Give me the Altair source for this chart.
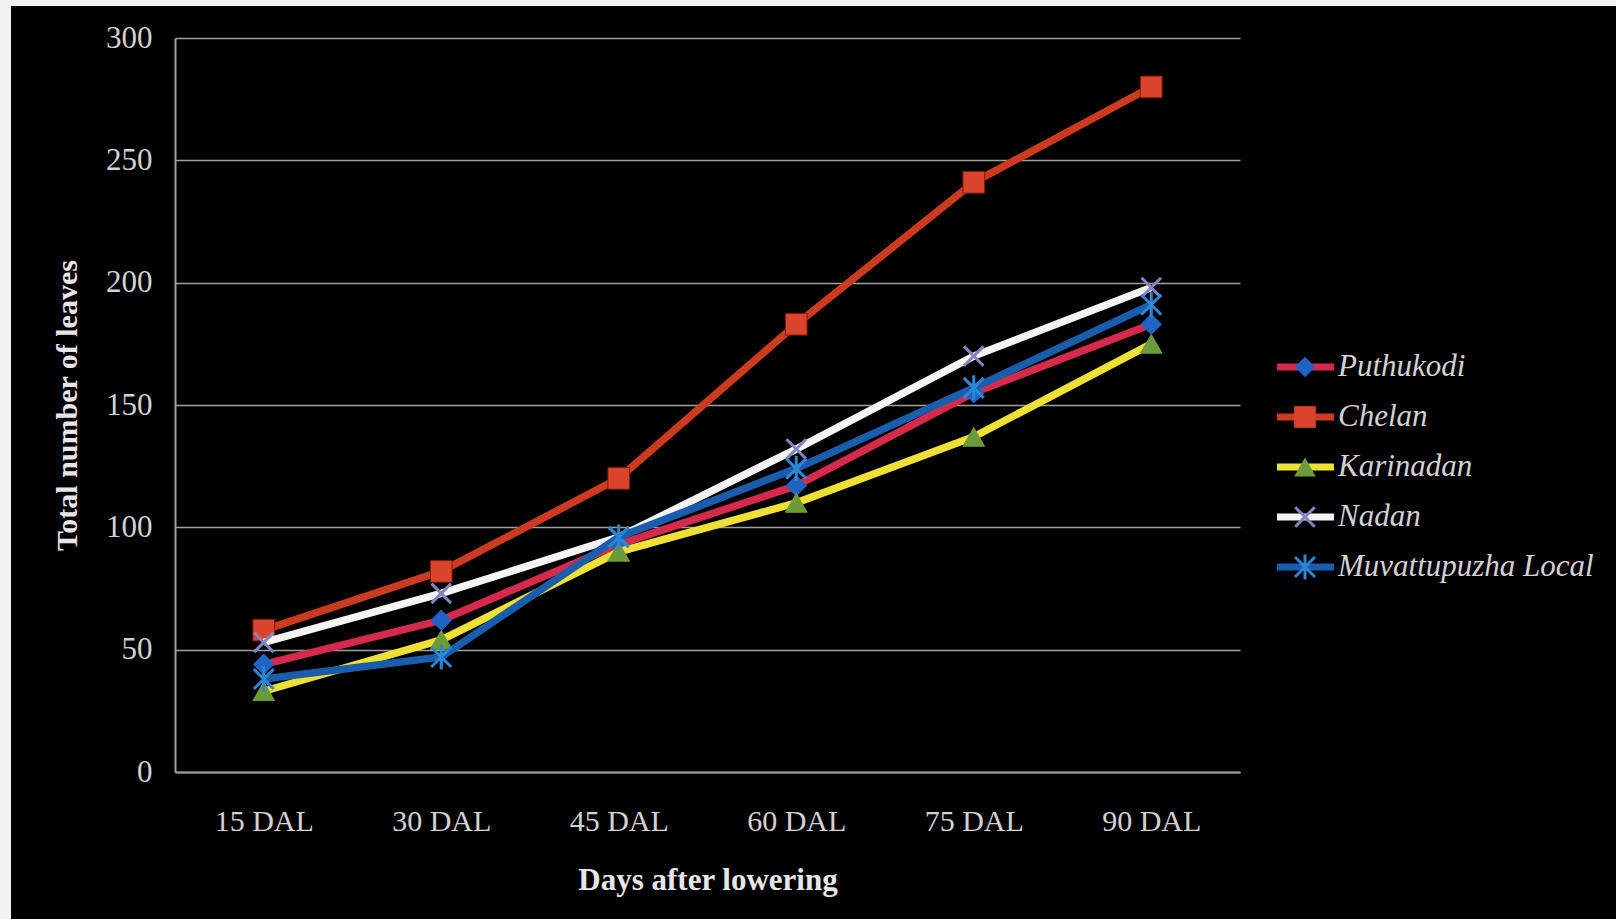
import altair as alt
import pandas as pd

# Days after lowering (x categories)
days = ["15 DAL", "30 DAL", "45 DAL", "60 DAL", "75 DAL", "90 DAL"]

# Varieties, in drawing / legend order
series_names = ["Puthukodi", "Chelan", "Karinadan", "Nadan", "Muvattupuzha Local"]

# Total number of leaves per variety
puthukodi = [44, 62, 93, 117, 155, 183]
chelan = [58, 82, 120, 183, 241, 280]
karinadan = [33, 54, 90, 110, 137, 175]
nadan = [53, 73, 96, 132, 170, 198]
muvattupuzha_local = [38, 47, 96, 124, 157, 191]

y_ticks = [0, 50, 100, 150, 200, 250, 300]

series_values = [puthukodi, chelan, karinadan, nadan, muvattupuzha_local]

rows = [
    {"day": d, "series": s, "leaves": v}
    for s, vals in zip(series_names, series_values)
    for d, v in zip(days, vals)
]
df = pd.DataFrame(rows)
legend_df = pd.DataFrame({"series": series_names})

# Styling per series
X_PATH = "M-1,-1L1,1M-1,1L1,-1"
STAR_PATH = "M-1,-1L1,1M-1,1L1,-1M0,-1.25L0,1.25"
line_colors = ["#d62a4c", "#cc3b1f", "#efe036", "#f4f4f4", "#1b5dad"]
marker_shapes = ["diamond", "square", "triangle-up", X_PATH, STAR_PATH]
marker_colors = ["#1f64c4", "#d9442b", "#6e9b3a", "#8484c4", "#2c86d6"]
marker_filled = [True, True, True, False, False]
marker_sizes = [420, 470, 470, 380, 400]

W, H = 1065, 734
PAD_L, PAD_T = 175, 38
SERIF = "Liberation Serif"
LABEL_COLOR = "#d2d2d2"
GRID_COLOR = "#a0a0a0"

x_enc = alt.X(
    "day:N",
    sort=days,
    scale=alt.Scale(type="point", padding=0.5),
    axis=alt.Axis(
        title="Days after lowering",
        titleFont=SERIF,
        titleFontSize=31,
        titleFontWeight="bold",
        titleColor="#e6e6e6",
        titleY=108,
        titleBaseline="middle",
        labelFont=SERIF,
        labelFontSize=30,
        labelColor=LABEL_COLOR,
        labelPadding=34,
        labelAngle=0,
        ticks=False,
        tickSize=0,
        grid=False,
        domainColor=GRID_COLOR,
        domainWidth=2,
    ),
)

y_enc = alt.Y(
    "leaves:Q",
    scale=alt.Scale(domain=[0, 300], nice=False, zero=True),
    axis=alt.Axis(
        values=y_ticks,
        title="Total number of leaves",
        titleFont=SERIF,
        titleFontSize=30,
        titleFontWeight="bold",
        titleColor="#e6e6e6",
        titleX=-108,
        titleBaseline="middle",
        labelFont=SERIF,
        labelFontSize=31,
        labelColor=LABEL_COLOR,
        labelPadding=23,
        ticks=False,
        tickSize=0,
        grid=True,
        gridColor=GRID_COLOR,
        gridWidth=1.5,
        domainColor=GRID_COLOR,
        domainWidth=2,
    ),
)

# Line + markers, one series at a time so later series sit on top
data_layers = []
for i, name in enumerate(series_names):
    base = alt.Chart().transform_filter(alt.datum.series == name)
    data_layers.append(
        base.mark_line(color=line_colors[i], strokeWidth=7.5).encode(x=x_enc, y=y_enc)
    )
    point_kwargs = dict(
        shape=marker_shapes[i],
        size=marker_sizes[i],
        filled=marker_filled[i],
        opacity=1,
    )
    if marker_filled[i]:
        point_kwargs.update(color=marker_colors[i], stroke="#7a1a10" if i == 1 else marker_colors[i], strokeWidth=1)
    else:
        point_kwargs.update(color=marker_colors[i], strokeWidth=3)
    data_layers.append(base.mark_point(**point_kwargs).encode(x=x_enc, y=y_enc))

data_group = alt.layer(*data_layers, data=df)

# Legend built from the series list
leg_y = alt.Y(
    "series:N",
    sort=series_names,
    scale=alt.Scale(type="point", domain=series_names, range=[367 - PAD_T, 567 - PAD_T], padding=0),
    axis=None,
)
legend_layers = []
for i, name in enumerate(series_names):
    base = alt.Chart().transform_filter(alt.datum.series == name)
    legend_layers.append(
        base.mark_rule(color=line_colors[i], strokeWidth=7).encode(
            x=alt.value(1277 - PAD_L), x2=alt.value(1334 - PAD_L), y=leg_y
        )
    )
    point_kwargs = dict(shape=marker_shapes[i], size=marker_sizes[i], filled=marker_filled[i], opacity=1)
    if marker_filled[i]:
        point_kwargs.update(color=marker_colors[i], strokeWidth=1)
    else:
        point_kwargs.update(color=marker_colors[i], strokeWidth=3)
    legend_layers.append(
        base.mark_point(**point_kwargs).encode(x=alt.value(1305 - PAD_L), y=leg_y)
    )
legend_layers.append(
    alt.Chart().mark_text(
        align="left",
        baseline="middle",
        font=SERIF,
        fontSize=31,
        fontStyle="italic",
        color=LABEL_COLOR,
    ).encode(x=alt.value(1338 - PAD_L), y=leg_y, text="series:N")
)
legend_group = alt.layer(*legend_layers, data=legend_df)

# Light page edge on the left and top
edge_left = alt.Chart(pd.DataFrame({"edge": ["left"]})).mark_rect(color="#f2f2f2").encode(
    x=alt.value(-PAD_L), x2=alt.value(-PAD_L + 11), y=alt.value(-PAD_T), y2=alt.value(919 - PAD_T)
)
edge_top = alt.Chart(pd.DataFrame({"edge": ["top"]})).mark_rect(color="#f2f2f2").encode(
    x=alt.value(-PAD_L), x2=alt.value(1616 - PAD_L), y=alt.value(-PAD_T), y2=alt.value(-PAD_T + 6)
)

chart = (
    alt.layer(edge_left, edge_top, data_group, legend_group)
    .resolve_scale(y="independent")
    .properties(
        width=W,
        height=H,
        autosize=alt.AutoSizeParams(type="none"),
        padding={"left": PAD_L, "top": PAD_T, "right": 1616 - PAD_L - W, "bottom": 919 - PAD_T - H},
        background="#000000",
    )
    .configure_view(strokeWidth=0)
)

chart.save("out.html", embed_options={"renderer": "svg", "actions": False})
